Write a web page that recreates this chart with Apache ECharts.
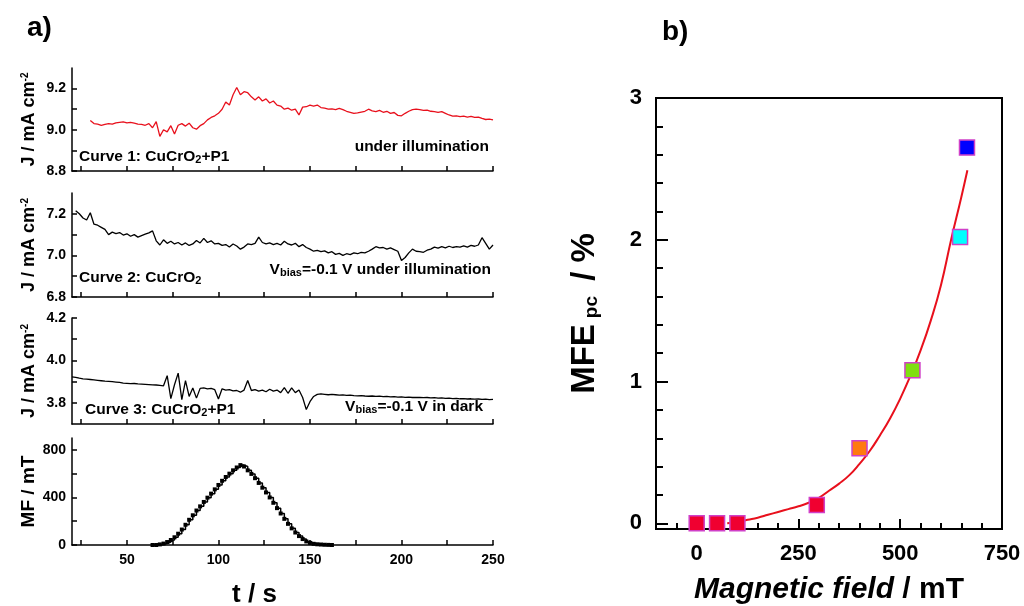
<!DOCTYPE html>
<html>
<head>
<meta charset="utf-8">
<script src="https://cdn.jsdelivr.net/npm/echarts@6/dist/echarts.min.js"></script>
<style>
  html, body { margin: 0; padding: 0; background: #fff; }
  #chart { width: 1024px; height: 606px; }
</style>
</head>
<body>
<div id="chart"></div>
<script>
// curve 1: CuCrO2+P1 under illumination  [t (s), J (mA cm-2)]
var curve1 = [[30,9.045],[32,9.030],[34,9.028],[36,9.022],[38,9.026],[40,9.030],[42,9.028],[44,9.034],[46,9.036],[48,9.038],
  [50,9.034],[52,9.036],[54,9.032],[56,9.028],[58,9.026],[60,9.022],[62,9.030],[64,9.010],[66,9.040],[68,8.968],
  [70,9.000],[72,8.990],[74,9.020],[76,8.980],[78,9.022],[80,9.030],[82,9.018],[84,9.032],[86,9.010],[88,9.003],
  [90,9.020],[92,9.030],[94,9.048],[96,9.060],[98,9.068],[100,9.080],[102,9.100],[104,9.135],[106,9.120],[108,9.170],
  [110,9.205],[112,9.170],[114,9.185],[116,9.180],[118,9.160],[120,9.145],[122,9.160],[124,9.140],[126,9.150],[128,9.130],
  [130,9.140],[132,9.120],[134,9.115],[136,9.100],[138,9.105],[140,9.095],[142,9.100],[144,9.072],[146,9.110],[148,9.112],
  [150,9.120],[152,9.115],[154,9.120],[156,9.108],[158,9.105],[160,9.100],[162,9.102],[164,9.098],[166,9.104],[168,9.098],
  [170,9.090],[172,9.085],[174,9.080],[176,9.082],[178,9.086],[180,9.090],[182,9.100],[184,9.092],[186,9.088],[188,9.094],
  [190,9.085],[192,9.090],[194,9.080],[196,9.084],[198,9.070],[200,9.068],[202,9.080],[204,9.090],[206,9.098],[208,9.100],
  [210,9.098],[212,9.094],[214,9.096],[216,9.090],[218,9.088],[220,9.085],[222,9.088],[224,9.080],[226,9.072],[228,9.066],
  [230,9.068],[232,9.064],[234,9.066],[236,9.062],[238,9.065],[240,9.060],[242,9.062],[244,9.055],[246,9.050],[248,9.052],[250,9.048]];

// curve 2: CuCrO2, Vbias=-0.1 V under illumination
var curve2 = [[22,7.215],[24,7.200],[26,7.180],[28,7.170],[30,7.205],[32,7.150],[34,7.145],[36,7.135],[38,7.125],[40,7.100],
  [42,7.112],[44,7.105],[46,7.110],[48,7.098],[50,7.104],[52,7.092],[54,7.100],[56,7.088],[58,7.095],[60,7.102],
  [62,7.108],[64,7.118],[66,7.070],[68,7.050],[70,7.075],[72,7.058],[74,7.068],[76,7.055],[78,7.062],[80,7.050],
  [82,7.060],[84,7.048],[86,7.055],[88,7.072],[90,7.060],[92,7.082],[94,7.062],[96,7.070],[98,7.055],[100,7.058],
  [102,7.048],[104,7.052],[106,7.040],[108,7.055],[110,7.045],[112,7.030],[114,7.040],[116,7.055],[118,7.052],[120,7.058],
  [122,7.088],[124,7.062],[126,7.055],[128,7.060],[130,7.052],[132,7.058],[134,7.050],[136,7.068],[138,7.055],[140,7.050],
  [142,7.058],[144,7.042],[146,7.052],[148,7.038],[150,7.030],[152,7.020],[154,7.024],[156,7.018],[158,7.022],[160,7.012],
  [162,7.018],[164,7.005],[166,7.010],[168,7.000],[170,7.008],[172,7.004],[174,7.012],[176,7.008],[178,7.015],[180,7.012],
  [182,7.020],[184,7.030],[186,7.042],[188,7.036],[190,7.038],[192,7.030],[194,7.036],[196,7.028],[198,7.020],[200,6.975],
  [202,6.990],[204,7.012],[206,7.030],[208,7.020],[210,7.018],[212,7.015],[214,7.025],[216,7.030],[218,7.040],[220,7.035],
  [222,7.042],[224,7.036],[226,7.044],[228,7.038],[230,7.042],[232,7.040],[234,7.046],[236,7.040],[238,7.048],[240,7.044],
  [242,7.050],[244,7.085],[246,7.058],[248,7.030],[250,7.050]];

// curve 3: CuCrO2+P1, Vbias=-0.1 V in dark
var curve3 = [[20,3.922],[22,3.920],[24,3.916],[26,3.913],[28,3.912],[30,3.910],[32,3.908],[34,3.906],[36,3.904],[38,3.902],
  [40,3.901],[42,3.900],[44,3.898],[46,3.896],[48,3.893],[50,3.892],[52,3.890],[54,3.891],[56,3.889],[58,3.888],
  [60,3.887],[62,3.886],[64,3.885],[66,3.884],[68,3.882],[70,3.880],[72,3.928],[74,3.820],[76,3.885],[78,3.940],
  [80,3.815],[82,3.905],[84,3.830],[86,3.870],[88,3.822],[90,3.868],[92,3.870],[94,3.866],[96,3.868],[98,3.862],
  [100,3.818],[102,3.866],[104,3.860],[106,3.862],[108,3.856],[110,3.858],[112,3.850],[114,3.860],[116,3.905],[118,3.858],
  [120,3.862],[122,3.855],[124,3.860],[126,3.852],[128,3.864],[130,3.855],[132,3.860],[134,3.848],[136,3.872],[138,3.845],
  [140,3.870],[142,3.848],[144,3.860],[146,3.825],[148,3.768],[150,3.805],[152,3.830],[154,3.840],[156,3.842],[158,3.840],
  [160,3.838],[162,3.840],[164,3.838],[166,3.836],[168,3.837],[170,3.835],[172,3.836],[174,3.834],[176,3.833],[178,3.834],
  [180,3.832],[182,3.831],[184,3.832],[186,3.830],[188,3.831],[190,3.829],[192,3.830],[194,3.828],[196,3.829],[198,3.827],
  [200,3.828],[202,3.826],[204,3.827],[206,3.825],[208,3.826],[210,3.825],[212,3.824],[214,3.825],[216,3.823],[218,3.824],
  [220,3.822],[222,3.823],[224,3.821],[226,3.822],[228,3.820],[230,3.821],[232,3.819],[234,3.820],[236,3.818],[238,3.819],
  [240,3.817],[242,3.818],[244,3.816],[246,3.817],[248,3.815],[250,3.816]];

// magnetic field ramp (mT)
var mfTime = [64,66,68,70,72,74,76,78,80,82,84,86,88,90,92,94,96,98,100,102,104,106,108,110,112,
  114,116,118,120,122,124,126,128,130,132,134,136,138,140,142,144,146,148,150,152,154,156,158,160,162];
var mfValue = [0,0,5,12,25,42,65,95,130,170,212,250,290,325,362,398,432,468,505,540,572,600,628,652,672,
  660,628,598,562,522,482,442,400,355,310,265,220,178,140,105,75,50,30,18,10,6,4,2,1,0];

// panel b: MFE vs field
var fieldPts = [0, 50, 100, 295, 400, 530, 647, 664];
var mfePts = [0, 0, 0, 0.13, 0.53, 1.08, 2.02, 2.65];
var fitField = [75,100,125,150,175,200,225,250,275,300,325,350,375,400,425,450,475,500,525,550,575,600,625,650,665];
var fitMfe = [0,0.01,0.025,0.04,0.06,0.08,0.10,0.12,0.145,0.18,0.23,0.28,0.34,0.42,0.51,0.62,0.74,0.88,1.04,1.22,1.43,1.68,2.0,2.3,2.49];

// tick labels
var tTicks = [25,50,75,100,125,150,175,200,225,250];
var tLabels = [50,100,150,200,250];
var j1Ticks = [8.8,8.9,9.0,9.1,9.2], j1Labels = [8.8,9.0,9.2];
var j2Ticks = [6.8,6.9,7.0,7.1,7.2], j2Labels = [6.8,7.0,7.2];
var j3Ticks = [3.8,3.9,4.0,4.1,4.2], j3Labels = [3.8,4.0,4.2];
var mfTicks = [0,200,400,600,800], mfLabels = [0,400,800];
var bxMajor = [0,250,500,750];
var bxMinor = [-50,0,50,100,150,200,250,300,350,400,450,500,550,600,650,700];
var byMajor = [0,1,2,3];
var byMinor = [0.2,0.4,0.6,0.8,1.2,1.4,1.6,1.8,2.2,2.4,2.6,2.8];

var pointColors = ['#f00030','#f00030','#f00030','#f00030','#ff7a10','#80e010','#00ffff','#0000ff'];

var FONT = 'Arial, "Liberation Sans", sans-serif';
var chart = echarts.init(document.getElementById('chart'));

function pairs(xs, ys) {
  return xs.map(function (x, i) { return [x, ys[i]]; });
}

function tAxis(idx, withLabels) {
  return {
    type: 'value', gridIndex: idx, min: 20, max: 250,
    axisLine: { onZero: false, lineStyle: { color: '#000', width: 1.5 } },
    axisTick: { inside: true, length: 5, customValues: tTicks, lineStyle: { color: '#000', width: 1.5 } },
    axisLabel: withLabels ? { customValues: tLabels, fontFamily: FONT, fontWeight: 'bold', fontSize: 14, color: '#000', margin: 8 } : { show: false },
    splitLine: { show: false }
  };
}

var jName = 'J / mA cm{sup|-2}';
var jRich = { sup: { fontSize: 10, fontWeight: 'bold', fontFamily: FONT, verticalAlign: 'top', padding: [0, 0, 8, 0] } };

function jAxis(idx, min, max, ticks, labels, name) {
  return {
    type: 'value', gridIndex: idx, min: min, max: max,
    name: name, nameLocation: 'middle', nameGap: 34,
    nameTextStyle: { fontFamily: FONT, fontWeight: 'bold', fontSize: 18, color: '#000', rich: jRich },
    axisLine: { show: true, onZero: false, lineStyle: { color: '#000', width: 1.5 } },
    axisTick: { show: true, inside: true, length: 5, customValues: ticks, lineStyle: { color: '#000', width: 1.5 } },
    axisLabel: {
      customValues: labels, fontFamily: FONT, fontWeight: 'bold', fontSize: 14, color: '#000', margin: 6,
      formatter: function (v) { return idx === 3 ? String(v) : v.toFixed(1); }
    },
    splitLine: { show: false }
  };
}

function note(text, x, y, align) {
  return {
    type: 'text', x: x, y: y,
    style: {
      text: text, align: align || 'left', verticalAlign: 'middle',
      font: 'bold 15.5px ' + FONT, fill: '#000',
      rich: {
        sub: { fontSize: 11, fontWeight: 'bold', fontFamily: FONT, verticalAlign: 'bottom', lineHeight: 12 }
      }
    }
  };
}

var option = {
  backgroundColor: '#fff',
  animation: false,
  grid: [
    { left: 72, top: 68, width: 421, height: 103, outerBoundsMode: 'none' },
    { left: 72, top: 193, width: 421, height: 104, outerBoundsMode: 'none' },
    { left: 72, top: 318, width: 421, height: 106, outerBoundsMode: 'none' },
    { left: 72, top: 438, width: 421, height: 107, outerBoundsMode: 'none' },
    { left: 656, top: 98, width: 346, height: 431, outerBoundsMode: 'none', show: true, borderColor: '#000', borderWidth: 2 }
  ],
  xAxis: [
    tAxis(0, false), tAxis(1, false), tAxis(2, false),
    Object.assign(tAxis(3, true), {
      name: 't / s', nameLocation: 'middle', nameGap: 37,
      nameTextStyle: { fontFamily: FONT, fontWeight: 'bold', fontSize: 26, color: '#000', padding: [0, 56, 0, 0] }
    }),
    {
      type: 'value', gridIndex: 4, position: 'bottom', min: -100, max: 750,
      name: '{it|Magnetic field} / mT', nameLocation: 'middle', nameGap: 46,
      nameTextStyle: {
        fontFamily: FONT, fontWeight: 'bold', fontSize: 30, color: '#000',
        rich: { it: { fontFamily: FONT, fontWeight: 'bold', fontStyle: 'italic', fontSize: 30, color: '#000' } }
      },
      axisLine: { onZero: false, lineStyle: { color: '#000', width: 2 } },
      axisTick: { inside: true, length: 10, customValues: bxMajor, lineStyle: { color: '#000', width: 2 } },
      axisLabel: { customValues: bxMajor, fontFamily: FONT, fontWeight: 'bold', fontSize: 22, color: '#000', margin: 14 },
      splitLine: { show: false }
    },
    {
      type: 'value', gridIndex: 4, position: 'bottom', min: -100, max: 750,
      axisLine: { show: false, onZero: false },
      axisTick: { inside: true, length: 6, customValues: bxMinor, lineStyle: { color: '#000', width: 2 } },
      axisLabel: { show: false },
      splitLine: { show: false }
    }
  ],
  yAxis: [
    jAxis(0, 8.8, 9.3, j1Ticks, j1Labels, jName),
    jAxis(1, 6.8, 7.3, j2Ticks, j2Labels, jName),
    jAxis(2, 3.7, 4.2, j3Ticks, j3Labels, jName),
    Object.assign(jAxis(3, 0, 900, mfTicks, mfLabels, 'MF / mT'), {
      nameTextStyle: { fontFamily: FONT, fontWeight: 'bold', fontSize: 19, color: '#000' }
    }),
    {
      type: 'value', gridIndex: 4, position: 'left', min: -0.04, max: 3,
      name: 'MFE{sub|pc} / %', nameLocation: 'middle', nameGap: 55,
      nameTextStyle: {
        fontFamily: FONT, fontWeight: 'bold', fontSize: 33, color: '#000',
        rich: { sub: { fontFamily: FONT, fontWeight: 'bold', fontSize: 19, color: '#000', verticalAlign: 'bottom', padding: [0, 6, 0, 6] } }
      },
      axisLine: { show: true, onZero: false, lineStyle: { color: '#000', width: 2 } },
      axisTick: { show: true, inside: true, length: 12, customValues: byMajor, lineStyle: { color: '#000', width: 2 } },
      axisLabel: { customValues: byMajor, fontFamily: FONT, fontWeight: 'bold', fontSize: 22, color: '#000', margin: 14 },
      splitLine: { show: false }
    },
    {
      type: 'value', gridIndex: 4, position: 'left', min: -0.04, max: 3,
      axisLine: { show: false, onZero: false },
      axisTick: { show: true, inside: true, length: 7, customValues: byMinor, lineStyle: { color: '#000', width: 2 } },
      axisLabel: { show: false },
      splitLine: { show: false }
    }
  ],
  series: [
    { type: 'line', xAxisIndex: 0, yAxisIndex: 0, data: curve1, showSymbol: false, lineStyle: { color: '#e8101c', width: 1.3 } },
    { type: 'line', xAxisIndex: 1, yAxisIndex: 1, data: curve2, showSymbol: false, lineStyle: { color: '#000', width: 1.3 } },
    { type: 'line', xAxisIndex: 2, yAxisIndex: 2, data: curve3, showSymbol: false, lineStyle: { color: '#000', width: 1.3 } },
    {
      type: 'line', xAxisIndex: 3, yAxisIndex: 3, data: pairs(mfTime, mfValue), step: 'end',
      symbol: 'rect', symbolSize: 4, itemStyle: { color: '#000' }, lineStyle: { color: '#000', width: 1.5 }
    },
    {
      type: 'line', xAxisIndex: 4, yAxisIndex: 4, data: pairs(fitField, fitMfe), smooth: true,
      showSymbol: false, lineStyle: { color: '#e8101c', width: 2 }, z: 2
    },
    {
      type: 'scatter', xAxisIndex: 4, yAxisIndex: 4, symbol: 'rect', symbolSize: 15, clip: false, z: 3,
      data: fieldPts.map(function (x, i) {
        return { value: [x, mfePts[i]], itemStyle: { color: pointColors[i] } };
      }),
      itemStyle: { opacity: 1, borderColor: '#d040c8', borderWidth: 1.5 }
    }
  ],
  graphic: [
    { type: 'text', x: 27, y: 28, style: { text: 'a)', font: 'bold 28px ' + FONT, fill: '#000', verticalAlign: 'middle' } },
    { type: 'text', x: 662, y: 32, style: { text: 'b)', font: 'bold 28px ' + FONT, fill: '#000', verticalAlign: 'middle' } },
    note('Curve 1: CuCrO{sub|2}+P1', 79, 157),
    note('under illumination', 489, 147, 'right'),
    note('Curve 2: CuCrO{sub|2}', 79, 278),
    note('V{sub|bias}=-0.1 V under illumination', 491, 270, 'right'),
    note('Curve 3: CuCrO{sub|2}+P1', 85, 410),
    note('V{sub|bias}=-0.1 V in dark', 483, 407, 'right')
  ]
};

chart.setOption(option);
</script>
</body>
</html>
